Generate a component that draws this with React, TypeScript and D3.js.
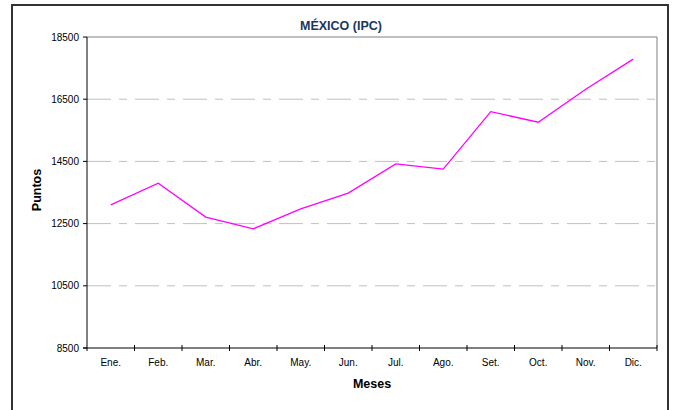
import React from "react";
import { scaleLinear, scaleBand, line } from "d3";

const months = ["Ene.", "Feb.", "Mar.", "Abr.", "May.", "Jun.", "Jul.", "Ago.", "Set.", "Oct.", "Nov.", "Dic."];
const ipc = [13100, 13800, 12710, 12330, 12970, 13480, 14420, 14250, 16100, 15760, 16820, 17790];
const yTicks = [8500, 10500, 12500, 14500, 16500, 18500];

export default function App() {
  const width = 674;
  const height = 410;
  const left = 87, right = 657, top = 37, bottom = 348;
  const font = "Liberation Sans, Arial, sans-serif";

  const xScale = scaleBand().domain(months).range([left, right]);
  const yScale = scaleLinear().domain([8500, 18500]).range([bottom, top]);

  const path = line<number>()
    .x((d, i) => xScale(months[i])! + xScale.bandwidth() / 2)
    .y(d => yScale(d))(ipc);

  return (
    <svg width={width} height={height} style={{ position: "fixed", left: 0, top: 0 }}>
      <rect x={0} y={0} width={width} height={height} fill="white" />
      <rect x={12} y={5} width={656} height={420} fill="white" stroke="#333" strokeWidth={2} />

      <text x={341} y={30} textAnchor="middle" fontFamily={font} fontSize={12.5} fontWeight="bold" fill="#17375e">
        MÉXICO (IPC)
      </text>

      {/* grid */}
      {yTicks.filter(t => t > 8500 && t < 18500).map(t => (
        <line key={t} x1={left} x2={right} y1={yScale(t)} y2={yScale(t)}
          stroke="#c0c0c0" strokeWidth={1} strokeDasharray="24,8,8,8" />
      ))}

      {/* plot frame top/right */}
      <line x1={left} x2={right} y1={top} y2={top} stroke="#808080" />
      <line x1={right} x2={right} y1={top} y2={bottom} stroke="#808080" />

      <path d={path ?? ""} fill="none" stroke="#ff00ff" strokeWidth={1.3} />

      {/* y axis */}
      <line x1={left} x2={left} y1={top} y2={bottom} stroke="black" />
      {yTicks.map(t => (
        <g key={t}>
          <line x1={left - 4} x2={left} y1={yScale(t)} y2={yScale(t)} stroke="black" />
          <text x={left - 8} y={yScale(t) + 3.5} textAnchor="end" fontFamily={font} fontSize={10} fill="black">
            {t}
          </text>
        </g>
      ))}

      {/* x axis */}
      <line x1={left - 4} x2={right} y1={bottom} y2={bottom} stroke="black" />
      {months.map((m, i) => (
        <g key={m}>
          <line x1={xScale(m)! + xScale.bandwidth()} x2={xScale(m)! + xScale.bandwidth()}
            y1={bottom - 3} y2={bottom + 3} stroke="black" />
          {i === 0 && <line x1={left} x2={left} y1={bottom} y2={bottom + 3} stroke="black" />}
          <text x={xScale(m)! + xScale.bandwidth() / 2} y={bottom + 18} textAnchor="middle"
            fontFamily={font} fontSize={10} fill="black">
            {m}
          </text>
        </g>
      ))}

      <text x={372} y={388} textAnchor="middle" fontFamily={font} fontSize={12.5} fontWeight="bold" fill="black">
        Meses
      </text>
      <text transform="translate(41,190) rotate(-90)" textAnchor="middle" fontFamily={font} fontSize={12.5}
        fontWeight="bold" fill="black">
        Puntos
      </text>
    </svg>
  );
}
